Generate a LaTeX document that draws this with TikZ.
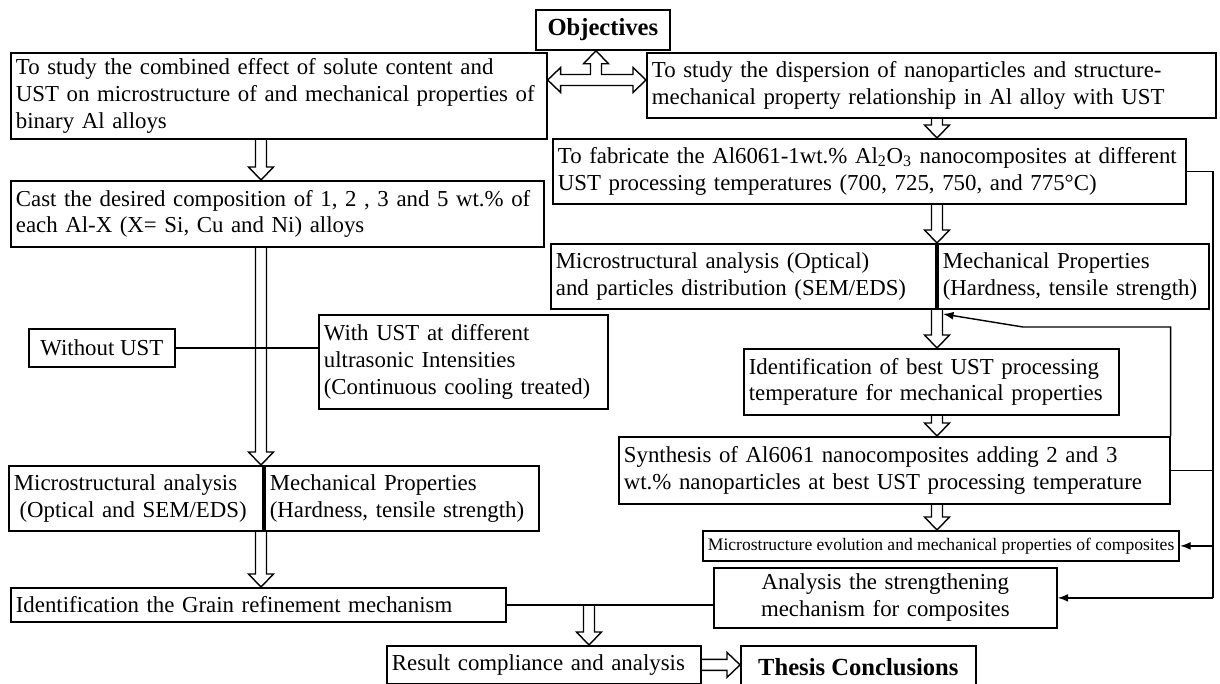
\documentclass[tikz,border=0pt]{standalone}
\usepackage{fontspec}
\setmainfont{Liberation Serif}
\usetikzlibrary{arrows.meta,calc}
\tikzset{>=Latex}
\newcommand{\bodysize}{\fontsize{13}{15.3}\selectfont}
\newcommand{\shaft}{0.11cm}
\newcommand{\headw}{0.25cm}
\newcommand{\headlen}{0.26cm}
\tikzset{%
    box/.style={draw, line width=1pt, anchor=north west, align=left,
        inner xsep=0.1cm, font=\bodysize},
    titlebox/.style={box, align=center, font=\fontsize{14}{16}\selectfont\bfseries},
    hollow/.style={line width=0.8pt, line join=miter},
    link/.style={line width=0.8pt},
    feed/.style={link, -{Latex[length=6pt,width=4.5pt]}}
}
% hollow block arrow pointing down, from #1 to #2
\newcommand{\hollowdown}[2]{%
    \draw[hollow] let \p1=(#1), \p2=(#2) in
        ({\x1-\shaft},\y1) -- ({\x1-\shaft},{\y2+\headlen}) -- ({\x1-\headw},{\y2+\headlen})
        -- (\x1,\y2) -- ({\x1+\headw},{\y2+\headlen}) -- ({\x1+\shaft},{\y2+\headlen})
        -- ({\x1+\shaft},\y1);}
% hollow block arrow pointing right
\newcommand{\hollowright}[2]{%
    \draw[hollow] let \p1=(#1), \p2=(#2) in
        (\x1,{\y1+\shaft}) -- ({\x2-\headlen},{\y1+\shaft}) -- ({\x2-\headlen},{\y1+\headw})
        -- (\x2,\y1) -- ({\x2-\headlen},{\y1-\headw}) -- ({\x2-\headlen},{\y1-\shaft})
        -- (\x1,{\y1-\shaft});}

\begin{document}
\begin{tikzpicture}[x=0.02cm,y=-0.02cm]
\useasboundingbox (0,0) rectangle (1220,683);
% column positions of the arrows
\coordinate (lcol) at (261,0);
\coordinate (rcol) at (937,0);
\coordinate (mcol) at (589,0);
\coordinate (rline) at (1213,0);
\coordinate (tee) at (596,80);
\coordinate (fbk) at (1023,327);
\coordinate (fbtip) at (943,314);

\node[titlebox, minimum width=2.68cm, minimum height=0.8cm] (obj) at (535,9) {Objectives};
\node[box, text width=10.52cm, minimum height=1.72cm] (aim1) at (10,52)
    {To study the combined effect of solute content and\\UST on microstructure of and mechanical properties of\\binary Al alloys};
\node[box, text width=11.18cm, minimum height=1.3cm] (aim2) at (646,52)
    {To study the dispersion of nanoparticles and structure-\\mechanical property relationship in Al alloy with UST};

% right branch
\node[box, text width=12.46cm, minimum height=1.3cm] (fab) at (552,138)
    {To fabricate the Al6061-1wt.\% Al\textsubscript{2}O\textsubscript{3} nanocomposites at different\\UST processing temperatures (700, 725, 750, and 775°C)};
\node[box, text width=7.5cm, minimum height=1.3cm] (micr) at (550,243)
    {Microstructural analysis (Optical)\\and particles distribution (SEM/EDS)};
\node[box, text width=5.22cm, minimum height=1.3cm] (mechr) at (937,243)
    {Mechanical Properties\\(Hardness, tensile strength)};
\node[box, text width=7.3cm, minimum height=1.32cm] (best) at (743,348)
    {Identification of best UST processing\\temperature for mechanical properties};
\node[box, text width=10.82cm, minimum height=1.34cm] (synth) at (618,436)
    {Synthesis of Al6061 nanocomposites adding 2 and 3\\wt.\% nanoparticles at best UST processing temperature};
\node[box, minimum width=9.5cm, minimum height=0.6cm, font=\fontsize{10}{12}\selectfont] (evol) at (702,530)
    {Microstructure evolution and mechanical properties of composites};
\node[box, align=center, text width=6.66cm, minimum height=1.2cm] (strength) at (713,567)
    {Analysis the strengthening\\mechanism for composites};

% left branch
\node[box, text width=10.46cm, minimum height=1.32cm] (cast) at (10,180)
    {Cast the desired composition of 1, 2 , 3 and 5 wt.\% of\\each Al-X (X= Si, Cu and Ni) alloys};
\node[box, align=center, minimum width=2.92cm, minimum height=0.76cm] (without) at (28,328) {Without UST};
\node[box, text width=5.58cm, minimum height=1.88cm] (withust) at (318,314)
    {With UST at different\\ultrasonic Intensities\\(Continuous cooling treated)};
\node[box, text width=4.88cm, minimum height=1.3cm] (micl) at (8,465)
    {Microstructural analysis\\\hspace*{0.25em}(Optical and SEM/EDS)};
\node[box, text width=5.28cm, minimum height=1.3cm] (mechl) at (264,465)
    {Mechanical Properties\\(Hardness, tensile strength)};
\node[box, text width=9.7cm, minimum height=0.68cm] (grain) at (10,587)
    {Identification the Grain refinement mechanism};
\node[box, text width=6.08cm, minimum height=0.76cm] (result) at (386,645)
    {Result compliance and analysis};
\node[titlebox, minimum width=4.7cm, minimum height=0.86cm] (thesis) at (740,645) {Thesis Conclusions};

% objectives arrow
\draw[hollow] let \p1=(aim1.east |- tee), \p2=(aim2.west |- tee), \p3=(obj.south -| tee) in
    (\x1,\y1) -- ({\x1+\headlen},{\y1+\headw}) -- ({\x1+\headlen},{\y1+\shaft})
    -- ({\x3-\shaft},{\y1+\shaft}) -- ({\x3-\shaft},{\y3-\headlen}) -- ({\x3-\headw},{\y3-\headlen})
    -- (\x3,\y3) -- ({\x3+\headw},{\y3-\headlen}) -- ({\x3+\shaft},{\y3-\headlen})
    -- ({\x3+\shaft},{\y1+\shaft}) -- ({\x2-\headlen},{\y1+\shaft}) -- ({\x2-\headlen},{\y1+\headw})
    -- (\x2,\y1) -- ({\x2-\headlen},{\y1-\headw}) -- ({\x2-\headlen},{\y1-\shaft})
    -- ({\x1+\headlen},{\y1-\shaft}) -- ({\x1+\headlen},{\y1-\headw}) -- cycle;

% right column
\hollowdown{aim2.south -| rcol}{fab.north -| rcol}
\hollowdown{fab.south -| rcol}{micr.north -| rcol}
\hollowdown{micr.south -| rcol}{best.north -| rcol}
\hollowdown{best.south -| rcol}{synth.north -| rcol}
\hollowdown{synth.south -| rcol}{evol.north -| rcol}
\draw[link] (fab.east) -- (fab.east -| rline) -- (strength.east -| rline);
\draw[link] (synth.east) -- (synth.east -| rline);
\draw[feed] (evol.east -| rline) -- (evol.east);
\draw[feed] (strength.east -| rline) -- (strength.east);
\draw[feed] (synth.north east) -- (synth.north east |- fbk) -- (fbk) -- (fbtip);

% left column
\hollowdown{aim1.south -| lcol}{cast.north -| lcol}
\hollowdown{cast.south -| lcol}{micl.north -| lcol}
\draw[link] (without.east) -- (without.east -| withust.west);
\hollowdown{micl.south -| lcol}{grain.north -| lcol}
\draw[link] (grain.east) -- (grain.east -| strength.west);
\hollowdown{grain.east -| mcol}{result.north -| mcol}
\hollowright{result.east}{thesis.west |- result.east}
\end{tikzpicture}
\end{document}
